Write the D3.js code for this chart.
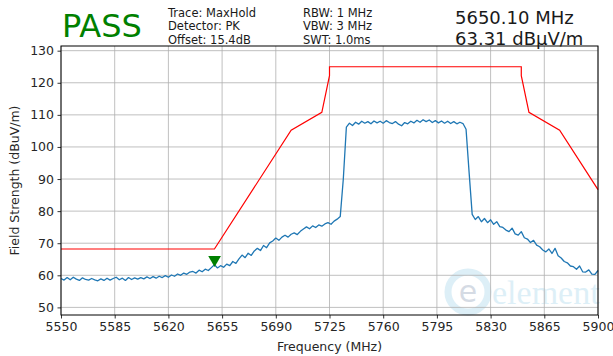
<!DOCTYPE html>
<html><head><meta charset="utf-8">
<script src="https://cdn.jsdelivr.net/npm/d3@7"></script>
<style>
html,body{margin:0;padding:0;background:#fff;}
svg{display:block;font-family:"DejaVu Sans",sans-serif;}
</style></head>
<body>
<svg id="chart" width="613" height="356"></svg>
<script>
// ---- data ----
const freqStart = 5550, freqStep = 2;
const traceValues = [
 59.0,58.5,59.3,58.6,59.4,58.8,58.4,59.2,58.7,58.5,59.0,58.6,58.3,58.9,58.4,59.1,58.5,59.0,59.4,58.6,59.1,58.4,59.3,58.7,59.2,58.8,
 59.3,58.9,59.5,59.0,59.6,59.1,59.7,59.3,59.9,59.4,60.1,59.7,60.4,60.0,60.7,60.3,61.0,61.2,60.7,61.6,61.1,61.9,61.5,62.4,63.3,
 62.3,63.0,62.5,63.5,63.0,64.3,63.7,65.1,66.3,65.5,66.9,66.2,67.6,68.4,67.7,69.3,68.6,70.1,70.7,71.6,70.9,71.9,72.5,71.9,72.8,
 73.2,72.7,73.7,74.4,75.1,74.5,75.4,74.9,75.7,75.3,76.0,76.4,75.9,76.9,77.5,78.3,
 90.0,106.2,107.4,106.7,107.7,107.1,108.0,107.4,107.9,107.2,108.1,107.5,108.0,107.4,108.2,107.6,107.3,107.9,107.1,106.6,
 107.6,107.2,108.0,107.5,108.3,107.7,108.5,107.9,108.4,107.6,108.2,107.5,108.1,107.4,108.0,107.3,107.9,107.2,107.7,107.3,105.5,
 92.0,79.0,77.4,78.3,76.7,77.7,76.4,77.3,75.9,76.7,75.2,74.9,74.1,73.6,74.7,72.9,72.5,73.6,71.7,71.3,70.2,70.9,69.4,68.9,67.9,
 67.3,68.2,66.8,68.4,66.1,65.4,64.3,63.9,62.9,62.7,61.9,62.9,61.1,61.0,61.7,60.4,60.3,61.5
];
const limitFreqs  = [5550, 5650, 5700, 5720, 5725, 5725, 5850, 5850, 5855, 5875, 5900];
const limitValues = [68.2, 68.2, 105.2, 110.8, 122.2, 125, 125, 122.2, 110.8, 105.2, 86.7];
const markerFreq = 5650.10, markerValue = 63.31;
const xTicks = [5550, 5585, 5620, 5655, 5690, 5725, 5760, 5795, 5830, 5865, 5900];
const yTicks = [50, 60, 70, 80, 90, 100, 110, 120, 130];
const infoCol1 = ["Trace: MaxHold", "Detector: PK", "Offset: 15.4dB"];
const infoCol2 = ["RBW: 1 MHz", "VBW: 3 MHz", "SWT: 1.0ms"];
const markerText = ["5650.10 MHz", "63.31 dB\u03bcV/m"];
const verdict = "PASS";

// ---- chart ----
const svg = d3.select("#chart");
const m = {left: 61, right: 15, top: 46, bottom: 41};
const W = 613, H = 356;
const x = d3.scaleLinear().domain([5550, 5900]).range([m.left, W - m.right]);
const y = d3.scaleLinear().domain([47.63, 131.46]).range([H - m.bottom, m.top]);

// watermark
const wm = svg.append("g").attr("opacity", 0.35);
wm.append("circle").attr("cx", 468).attr("cy", 292).attr("r", 20)
  .attr("fill", "none").attr("stroke", "#9fd3ea").attr("stroke-width", 7);
wm.append("text").attr("x", 468).attr("y", 302).attr("text-anchor", "middle")
  .attr("font-size", 30).attr("fill", "#8a9bb5").text("e");
wm.append("text").attr("x", 492).attr("y", 304).attr("font-size", 34)
  .attr("font-family", "Liberation Serif, serif").attr("fill", "#9fd3ea").text("element");

// grid
const grid = svg.append("g");
grid.selectAll("line.vx").data(xTicks).join("line")
  .attr("x1", d => x(d)).attr("x2", d => x(d)).attr("y1", m.top).attr("y2", H - m.bottom)
  .attr("stroke", "#b0b0b0").attr("stroke-width", 0.8);
grid.selectAll("line.hy").data(yTicks).join("line")
  .attr("y1", d => y(d)).attr("y2", d => y(d)).attr("x1", m.left).attr("x2", W - m.right)
  .attr("stroke", "#b0b0b0").attr("stroke-width", 0.8);

// trace
const traceData = traceValues.map((v, i) => [freqStart + i * freqStep, v]);
svg.append("path").datum(traceData)
  .attr("fill", "none").attr("stroke", "#1f77b4").attr("stroke-width", 1.3)
  .attr("stroke-linejoin", "round")
  .attr("d", d3.line().x(d => x(d[0])).y(d => y(d[1])));

// limit line
const limitData = limitFreqs.map((f, i) => [f, limitValues[i]]);
svg.append("path").datum(limitData)
  .attr("fill", "none").attr("stroke", "#ff0000").attr("stroke-width", 1.2)
  .attr("d", d3.line().x(d => x(d[0])).y(d => y(d[1])));

// marker
const mx = x(markerFreq), my = y(markerValue) - 5;
svg.append("path")
  .attr("d", d3.symbol().type(d3.symbolTriangle).size(70))
  .attr("transform", `translate(${mx},${my}) rotate(180)`)
  .attr("fill", "#008000");

// axes
const xAxis = d3.axisBottom(x).tickValues(xTicks).tickSize(3.5).tickPadding(3.5).tickFormat(d3.format("d"));
const yAxis = d3.axisLeft(y).tickValues(yTicks).tickSize(3.5).tickPadding(3.5);
const gx = svg.append("g").attr("transform", `translate(0,${H - m.bottom})`).call(xAxis);
const gy = svg.append("g").attr("transform", `translate(${m.left},0)`).call(yAxis);
[gx, gy].forEach(g => {
  g.select(".domain").remove();
  g.selectAll("text").attr("font-size", 12.5).attr("fill", "#262626").attr("font-family", "DejaVu Sans");
  g.selectAll("line").attr("stroke", "#000").attr("stroke-width", 0.8);
});
svg.append("rect").attr("x", m.left).attr("y", m.top)
  .attr("width", W - m.right - m.left).attr("height", H - m.bottom - m.top)
  .attr("fill", "none").attr("stroke", "#000").attr("stroke-width", 1);

// labels
svg.append("text").attr("x", (m.left + W - m.right) / 2).attr("y", 351)
  .attr("text-anchor", "middle").attr("font-size", 12.5).attr("fill", "#262626").text("Frequency (MHz)");
svg.append("text").attr("transform", `translate(19,${(m.top + H - m.bottom) / 2}) rotate(-90)`)
  .attr("text-anchor", "middle").attr("font-size", 12.5).attr("fill", "#262626").text("Field Strength (dBuV/m)");

// header
svg.append("text").attr("x", 62).attr("y", 37).attr("font-size", 32).attr("fill", "#008000").text(verdict);
svg.selectAll("text.c1").data(infoCol1).join("text").attr("class", "c1")
  .attr("x", 168).attr("y", (d, i) => 16.5 + i * 13.5).attr("font-size", 11.5).attr("fill", "#1a1a1a").text(d => d);
svg.selectAll("text.c2").data(infoCol2).join("text").attr("class", "c2")
  .attr("x", 303).attr("y", (d, i) => 16.5 + i * 13.5).attr("font-size", 11.5).attr("fill", "#1a1a1a").text(d => d);
svg.selectAll("text.mk").data(markerText).join("text").attr("class", "mk")
  .attr("x", 455).attr("y", (d, i) => 24 + i * 21).attr("font-size", 18).attr("fill", "#1a1a1a").text(d => d);
</script>
</body></html>
